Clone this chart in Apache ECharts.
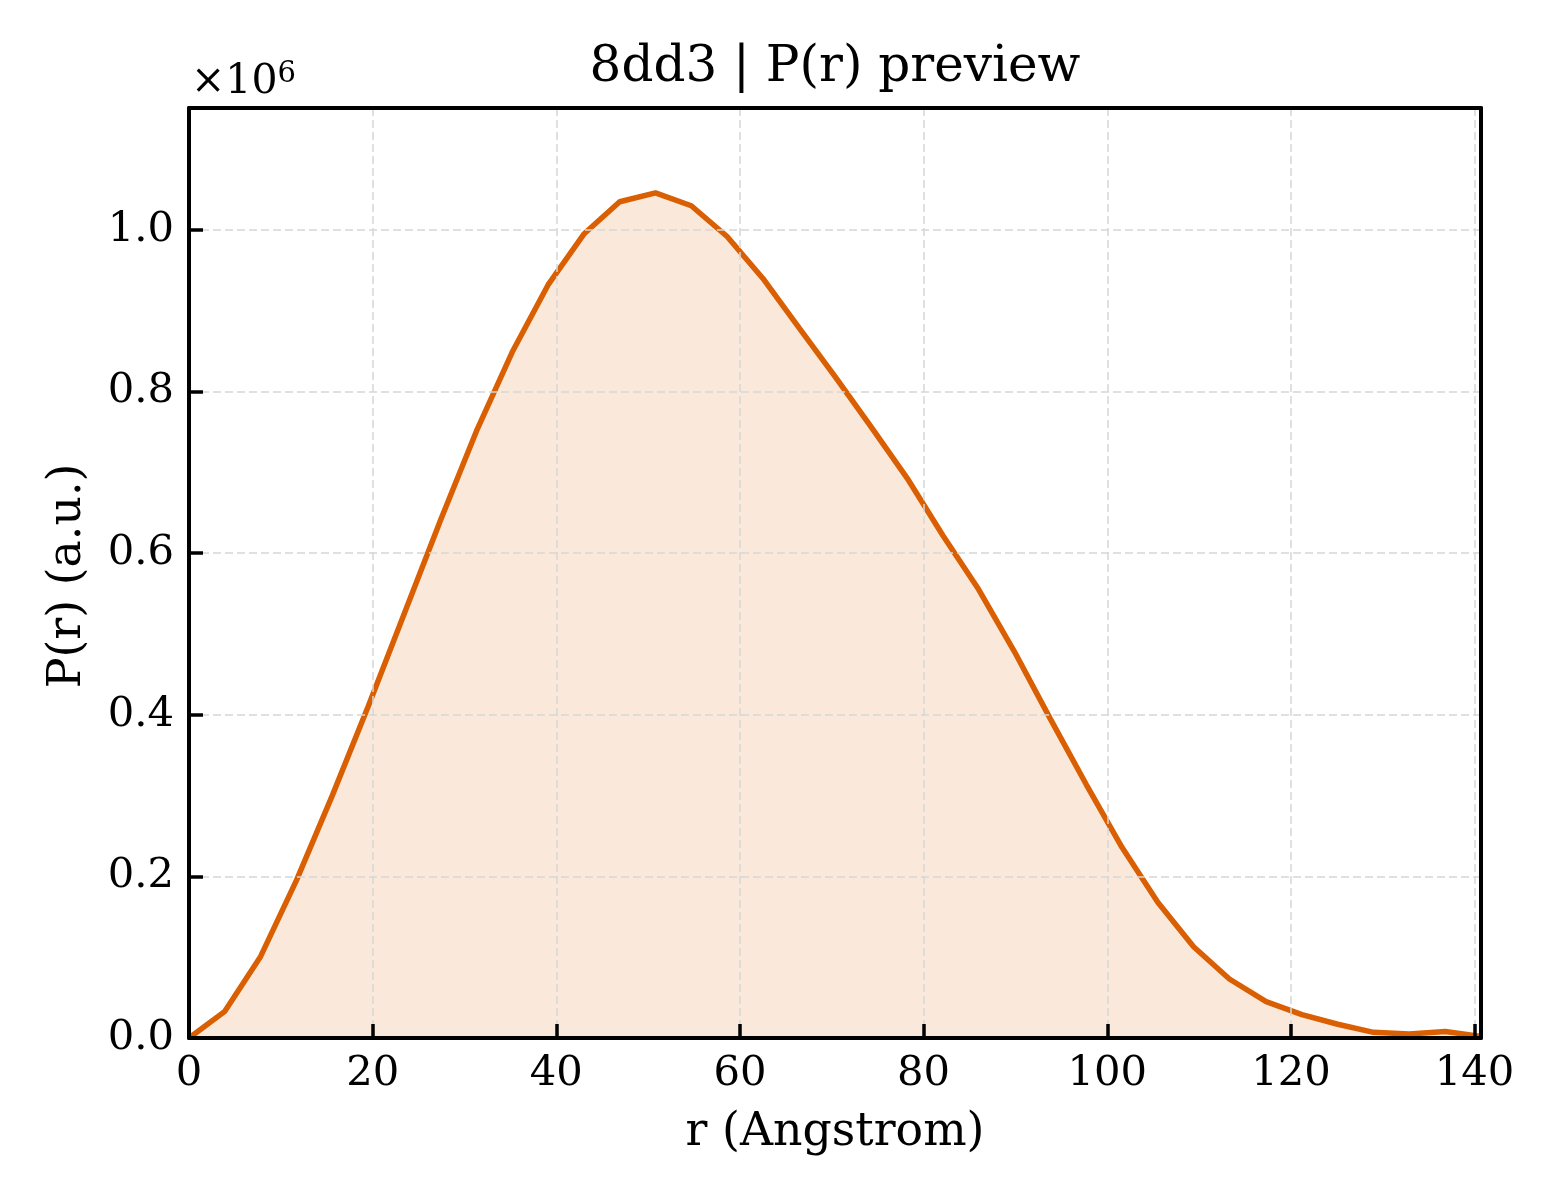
<!DOCTYPE html>
<html>
<head>
<meta charset="utf-8">
<script src="https://cdn.jsdelivr.net/npm/echarts@6/dist/echarts.min.js"></script>
<style>
  html, body { margin: 0; padding: 0; background: #fff; }
  #chart { width: 1560px; height: 1200px; }
</style>
</head>
<body>
<div id="chart"></div>
<script>
// r values (Angstrom)
const rValues = [0, 3.9, 7.8, 11.7, 15.6, 19.5, 23.5, 27.4, 31.3, 35.2, 39.1, 43.0, 46.9, 50.8,
  54.7, 58.6, 62.5, 66.5, 70.4, 74.3, 78.2, 82.1, 86.0, 89.9, 93.8, 97.7, 101.6, 105.5,
  109.4, 113.3, 117.3, 121.2, 125.1, 129.0, 132.9, 136.8, 140.7];
// P(r) values in units of 1e6
const prValues = [0, 0.033, 0.101, 0.195, 0.300, 0.410, 0.527, 0.641, 0.751, 0.849, 0.932, 0.995,
  1.035, 1.046, 1.030, 0.992, 0.940, 0.878, 0.818, 0.756, 0.693, 0.622, 0.555, 0.478, 0.395,
  0.314, 0.236, 0.168, 0.113, 0.073, 0.045, 0.029, 0.017, 0.007, 0.005, 0.008, 0.002];
const xTicks = [0, 20, 40, 60, 80, 100, 120, 140];
const yTicks = [0.0, 0.2, 0.4, 0.6, 0.8, 1.0];
const titleText = '8dd3 | P(r) preview';
const xLabel = 'r (Angstrom)';
const yLabel = 'P(r) (a.u.)';

const FONT = '"DejaVu Serif", serif';
const chart = echarts.init(document.getElementById('chart'), null, { renderer: 'canvas' });

const isTick = (v, list) => list.some(t => Math.abs(t - v) < 1e-6);
const gridLine = { show: true, showMinLine: false, showMaxLine: false,
  lineStyle: { color: '#d6d6d6', width: 1.5, type: [8, 4] } };
const spine = { show: true, onZero: false, lineStyle: { color: '#000', width: 4 } };

chart.setOption({
  animation: false,
  backgroundColor: '#ffffff',
  grid: {
    left: 189, top: 108, width: 1292, height: 930,
    show: false
  },
  xAxis: [{
    type: 'value', min: 0, max: 140.7, interval: 20, position: 'bottom',
    axisLine: spine,
    axisTick: { show: true, inside: true, length: 14, lineStyle: { color: '#000', width: 3.5 } },
    axisLabel: {
      margin: 15, fontSize: 41.7, color: '#000', fontFamily: FONT,
      formatter: v => isTick(v, xTicks) ? String(Math.round(v)) : ''
    },
    splitLine: gridLine, z: 2
  }, {
    type: 'value', min: 0, max: 140.7, position: 'top',
    axisLine: spine, axisTick: { show: false }, axisLabel: { show: false },
    splitLine: { show: false }, z: 2
  }],
  yAxis: [{
    type: 'value', min: 0, max: 1.151, interval: 0.2, position: 'left',
    axisLine: spine,
    axisTick: { show: true, inside: true, length: 14, lineStyle: { color: '#000', width: 3.5 } },
    axisLabel: {
      margin: 15, fontSize: 41.7, color: '#000', fontFamily: FONT,
      formatter: v => isTick(v, yTicks) ? v.toFixed(1) : ''
    },
    splitLine: gridLine, z: 2
  }, {
    type: 'value', min: 0, max: 1.151, position: 'right',
    axisLine: spine, axisTick: { show: false }, axisLabel: { show: false },
    splitLine: { show: false }, z: 2
  }],
  series: [{
    type: 'line',
    xAxisIndex: 0, yAxisIndex: 0,
    data: rValues.map((r, i) => [r, prValues[i]]),
    showSymbol: false,
    smooth: false,
    clip: true,
    lineStyle: { color: '#d95f02', width: 5.5 },
    itemStyle: { color: '#d95f02' },
    areaStyle: { color: '#d95f02', opacity: 0.14 },
    z: 1
  }],
  graphic: [
    {
      type: 'text', x: 835, y: 68,
      style: { text: titleText, font: '50px ' + FONT, fill: '#000', textAlign: 'center', textVerticalAlign: 'middle' }
    },
    {
      type: 'text', x: 835, y: 1133,
      style: { text: xLabel, font: '45.8px ' + FONT, fill: '#000', textAlign: 'center', textVerticalAlign: 'middle' }
    },
    {
      type: 'text', x: 68, y: 576, rotation: Math.PI / 2,
      style: { text: yLabel, font: '45.8px ' + FONT, fill: '#000', textAlign: 'center', textVerticalAlign: 'middle' }
    },
    {
      type: 'text', x: 191, y: 82,
      style: {
        text: '{a|×10}{b|6}',
        textVerticalAlign: 'middle',
        rich: {
          a: { fontSize: 41, fontFamily: FONT, color: '#000' },
          b: { fontSize: 29, fontFamily: FONT, color: '#000', verticalAlign: 'top', padding: [0, 0, 16, 0] }
        }
      }
    }
  ]
});
</script>
</body>
</html>
